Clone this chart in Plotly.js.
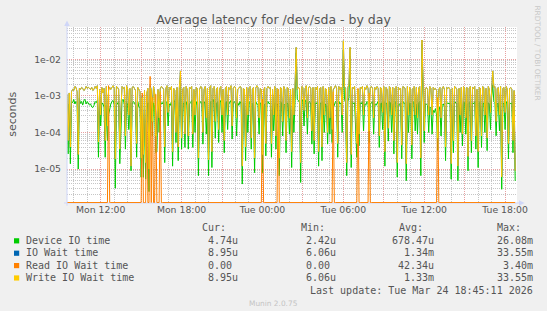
<!DOCTYPE html>
<html><head><meta charset="utf-8">
<script src="https://cdn.plot.ly/plotly-3.0.1.min.js"></script>
<style>html,body{margin:0;padding:0;background:#F0F0F0;}#chart{width:547px;height:311px;}</style>
</head><body><div id="chart"></div><script>
// ---- data (values in microseconds, one sample every 5 minutes) ----
const firstSampleUTC = [2026, 2, 23, 9, 30]; // Mon 2026-03-23 09:30
const stepMinutes = 5;

const deviceIO = [
500,26,600,14,700,650,800,600,700,650,10,850,620,700,560,750,800,600,700,620,
560,600,500,480,550,700,650,750,21,700,150,650,600,500,21,560,60,300,450,600,
700,750,600,3.0,550,650,700,14,200,750,800,600,35,700,550,120,650,9,600,700,
650,550,21,700,500,450,6,300,6,600,5.3,400,650,2.42,550,700,80,650,500,28,
30,700,100,500,650,600,750,15,650,700,150,600,550,700,12,800,650,53,600,17,
700,2500,35,600,650,39,700,550,35,600,650,750,39,600,100,700,550,6.6,600,700,
650,48,700,600,90,550,6.6,650,700,11,800,650,70,600,700,53,650,750,100,600,
28,650,700,120,600,700,750,66,650,700,600,80,650,550,700,600,3.9,650,600,17,
600,100,700,650,35,600,650,8,700,600,550,90,650,600,8,500,600,23,650,700,
600,650,21,600,110,650,35,600,550,6.6,700,650,80,600,550,28,650,600,90,550,
11,600,100,700,15000,800,750,650,4.3,800,700,150,750,700,90,650,700,600,48,650,
26,650,600,700,12,600,650,17,700,100,600,550,48,650,90,700,53,450,600,700,
650,21,700,600,650,100,18000,800,650,6.6,700,900,12000,11,700,600,650,100,21,500,
43,650,600,700,110,600,550,700,650,53,600,650,700,90,600,550,650,700,39,600,
650,120,700,12,650,600,58,700,650,100,600,26,700,650,6,600,550,650,19,700,
650,600,4.8,700,100,650,600,19,700,650,110,600,90,650,700,6.6,26080,800,53,600,
600,550,100,500,450,90,400,350,450,300,32,400,500,80,550,600,500,17,600,650,
600,650,5.3,600,28,700,650,600,4.8,650,100,600,43,700,650,90,600,9,650,700,
28,650,600,700,35,600,11,650,700,39,600,650,100,700,32,650,600,120,900,2000,
700,650,81,600,650,110,700,2.8,600,650,120,700,600,19,650,600,650,28,500,4.74
];

const ioWait = [
1100,60,1200,40,1300,1500,1400,1800,1700,1300,25,1600,1500,1700,1600,1400,1500,1800,1600,1700,
1600,1500,1700,1400,1500,1800,1600,1900,55,1500,300,1700,1200,1600,60,1800,150,1450,1700,1500,
1700,1900,1600,19,1800,1700,1500,35,400,1800,1600,1700,80,1900,1500,300,1600,12,1700,1800,
1600,1400,50,1700,1500,1300,20,1000,25,1400,15,1150,1600,10,1900,1500,500,1800,1200,400,
90,1500,250,1550,1800,1700,1500,40,1600,1900,350,1700,1500,1800,30,1600,1400,100,1700,40,
1600,4800,70,1500,1700,90,1800,1500,80,1700,1600,1800,90,1500,300,1700,1600,20,1500,1800,
1700,100,1500,1800,250,1600,18,1700,1900,30,1600,1800,200,1500,1700,120,1600,1800,300,1500,
60,1600,1800,300,1700,1500,1900,150,1600,1800,1700,250,1500,1600,1800,1700,12,1600,1500,40,
1700,300,1600,1800,70,1500,1700,20,1600,1900,1700,250,1600,1500,300,1400,1700,50,1600,1800,
1600,1700,50,1500,300,1800,80,1600,1450,20,1700,1600,200,1800,1500,60,1700,1600,250,1500,
30,1600,300,1800,21000,1500,1700,1600,15,1800,1700,400,1600,1900,250,1700,1800,1600,110,1700,
60,1700,1500,1800,30,1600,1700,40,1800,300,1600,1500,100,1700,250,1800,120,1450,1700,1900,
1600,50,1800,1500,1700,300,32000,1800,1600,15,1700,2000,21000,25,1700,1600,1800,300,50,1520,
90,1700,1600,1800,300,1700,1500,1900,1600,500,1700,1800,1600,250,1700,1500,1800,1600,80,1700,
1600,350,1800,30,1700,1500,130,1800,1600,300,1700,60,1600,1800,15,1700,1500,1600,45,1800,
1700,1600,14,1800,300,1700,1500,45,1600,1800,300,1700,250,1600,1800,20,33550,1700,110,1600,
1700,1500,300,1800,1600,300,1700,1500,1600,1400,300,1500,1700,250,1600,1800,1500,40,1700,1600,
1700,1500,14,1600,60,1800,1700,1500,12,1600,300,1700,90,1800,1600,250,1700,22,1600,1800,
60,1700,1600,1800,80,1500,30,1700,1600,80,1800,1700,300,1600,70,1800,1500,350,2000,4800,
1700,1800,200,1600,1700,300,1800,6.06,1600,1700,350,1800,1500,50,1600,1700,1500,60,1400,8.95
];

const readIOWait = [
0,0,0,0,0,0,0,0,0,0,0,0,0,0,0,0,0,0,0,0,
0,0,0,0,0,0,0,0,0,0,0,0,0,0,0,0,0,1900,0,0,
0,0,0,0,0,0,0,0,0,0,0,0,0,0,0,0,0,0,0,0,
0,0,0,0,0,0,0,1200,0,0,0,1000,0,0,3400,0,900,0,0,1100,
0,0,0,1300,0,0,0,0,0,0,0,0,0,0,0,0,0,0,0,0,
0,0,0,0,0,0,0,0,0,0,0,0,0,0,0,0,0,0,0,0,
0,0,0,0,0,0,0,0,0,0,0,0,0,0,0,0,0,0,0,0,
0,0,0,0,0,0,0,0,0,0,0,0,0,0,0,0,0,0,0,0,
0,0,0,0,0,0,0,0,0,0,0,0,0,0,800,0,0,0,0,0,
0,0,0,0,0,0,0,0,1500,0,0,0,0,0,0,0,0,0,0,0,
0,0,0,0,0,0,0,0,0,0,0,0,0,0,0,0,0,0,0,0,
0,0,0,0,0,0,0,0,0,0,0,0,0,0,0,0,0,1300,0,0,
0,0,0,0,0,0,0,0,0,0,0,0,0,0,0,0,0,0,0,1600,
0,0,0,0,0,0,0,0,0,1200,0,0,0,0,0,0,0,0,0,0,
0,0,0,0,0,0,0,0,0,0,0,0,0,0,0,0,0,0,0,0,
0,0,0,0,0,0,0,0,0,0,0,0,0,0,0,0,0,0,0,0,
0,0,0,0,0,0,0,0,0,0,900,0,0,0,0,0,0,0,0,0,
0,0,0,0,0,0,0,0,0,0,0,0,0,0,0,0,0,0,0,0,
0,0,0,0,0,0,0,0,0,0,0,0,0,0,0,0,0,0,0,0,
0,0,0,0,0,0,0,0,0,0,0,0,0,0,0,0,0,0,0,0
];

const writeIOWait = [
1100,60,1200,40,1300,1500,1400,1800,1700,1300,25,1600,1500,1700,1600,1400,1500,1800,1600,1700,
1600,1500,1700,1400,1500,1800,1600,1900,55,1500,300,1700,1200,1600,60,1800,150,1400,1700,1500,
1700,1900,1600,19,1800,1700,1500,35,400,1800,1600,1700,80,1900,1500,300,1600,12,1700,1800,
1600,1400,50,1700,1500,1300,20,900,25,1400,15,1200,1600,10,1700,1500,200,1800,1200,80,
90,1500,250,1600,1800,1700,1500,40,1600,1900,350,1700,1500,1800,30,1600,1400,100,1700,40,
1600,4800,70,1500,1700,90,1800,1500,80,1700,1600,1800,90,1500,300,1700,1600,20,1500,1800,
1700,100,1500,1800,250,1600,18,1700,1900,30,1600,1800,200,1500,1700,120,1600,1800,300,1500,
60,1600,1800,300,1700,1500,1900,150,1600,1800,1700,250,1500,1600,1800,1700,12,1600,1500,40,
1700,300,1600,1800,70,1500,1700,20,1600,1900,1700,250,1600,1500,25,1400,1700,50,1600,1800,
1600,1700,50,1500,300,1800,80,1600,1400,20,1700,1600,200,1800,1500,60,1700,1600,250,1500,
30,1600,300,1800,21000,1500,1700,1600,15,1800,1700,400,1600,1900,250,1700,1800,1600,110,1700,
60,1700,1500,1800,30,1600,1700,40,1800,300,1600,1500,100,1700,250,1800,120,1500,1700,1900,
1600,50,1800,1500,1700,300,32000,1800,1600,15,1700,2000,21000,25,1700,1600,1800,300,50,1500,
90,1700,1600,1800,300,1700,1500,1900,1600,110,1700,1800,1600,250,1700,1500,1800,1600,80,1700,
1600,350,1800,30,1700,1500,130,1800,1600,300,1700,60,1600,1800,15,1700,1500,1600,45,1800,
1700,1600,14,1800,300,1700,1500,45,1600,1800,300,1700,250,1600,1800,20,33550,1700,110,1600,
1700,1500,300,1800,1600,300,1700,1500,1600,1400,70,1500,1700,250,1600,1800,1500,40,1700,1600,
1700,1500,14,1600,60,1800,1700,1500,12,1600,300,1700,90,1800,1600,250,1700,22,1600,1800,
60,1700,1600,1800,80,1500,30,1700,1600,80,1800,1700,300,1600,70,1800,1500,350,2000,4800,
1700,1800,200,1600,1700,300,1800,6.06,1600,1700,350,1800,1500,50,1600,1700,1500,60,1400,8.95
];

const seriesNames  = ['Device IO time', 'IO Wait time', 'Read IO Wait time', 'Write IO Wait time'];
const seriesColors = ['#00CC00', '#0066B3', '#FF8000', '#FFCC00'];
const curVals = ['4.74u', '8.95u', '0.00', '8.95u'];
const minVals = ['2.42u', '6.06u', '0.00', '6.06u'];
const avgVals = ['678.47u', '1.34m', '42.34u', '1.33m'];
const maxVals = ['26.08m', '33.55m', '3.40m', '33.55m'];
const statHeaders = ['Cur:', 'Min:', 'Avg:', 'Max:'];
const xTickVals = ['2026-03-23 12:00','2026-03-23 15:00','2026-03-23 18:00','2026-03-23 21:00',
  '2026-03-24 00:00','2026-03-24 03:00','2026-03-24 06:00','2026-03-24 09:00',
  '2026-03-24 12:00','2026-03-24 15:00','2026-03-24 18:00'];
const xTickText = ['Mon 12:00','','Mon 18:00','','Tue 00:00','','Tue 06:00','','Tue 12:00','','Tue 18:00'];
const yTickVals = [1e-5, 1e-4, 1e-3, 1e-2];
const yTickText = ['1e-05', '1e-04', '1e-03', '1e-02'];
const lastUpdate = 'Last update: Tue Mar 24 18:45:11 2026';

// ---- drawing ----
const t0 = Date.UTC.apply(null, firstSampleUTC);
const xs = deviceIO.map((_, i) => t0 + i * stepMinutes * 60000);
const yLogRange = [-5.927, -1.119];
const zeroFloor = Math.pow(10, yLogRange[0] + 0.012);
const toSec = arr => arr.map(v => v === 0 ? zeroFloor : v * 1e-6);
const seriesData = [deviceIO, ioWait, readIOWait, writeIOWait];

const traces = seriesData.map((arr, k) => ({
  type: 'scatter', mode: 'lines', x: xs, y: toSec(arr), name: seriesNames[k],
  line: {color: seriesColors[k], width: 1}, hoverinfo: 'skip', showlegend: false
}));

const L = 67, R = 517, T = 27, B = 203.3;
const px = p => (p - L) / (R - L);
const py = p => (B - p) / (B - T);
const FONT = 'DejaVu Sans', MONO = 'DejaVu Sans Mono';
const txtCol = '#555';
const annotations = [];
function ann(text, x, y, xanchor, font, extra) {
  annotations.push(Object.assign({text, x: px(x), y: py(y), xref: 'paper', yref: 'paper',
    xanchor, yanchor: 'middle', showarrow: false, borderpad: 0, borderwidth: 0, font}, extra || {}));
}
const legFont = {family: MONO, size: 10, color: txtCol};
const headerX = [202.4, 300.8, 398.8, 497.2];
const colRight = [238.3, 336, 434.4, 533.2];
statHeaders.forEach((h, j) => ann(h, headerX[j], 227.6, 'left', legFont));
const rowY = [240.8, 253.2, 265.6, 278.0];
const shapes = [];
const cols = [curVals, minVals, avgVals, maxVals];
seriesNames.forEach((n, k) => {
  ann(n, 25.6, rowY[k], 'left', legFont);
  cols.forEach((c, j) => {
    const v = /[a-zµ]$/i.test(c[k]) ? c[k] : c[k] + '\u00A0';
    ann(v, colRight[j], rowY[k], 'right', legFont);
  });
  shapes.push({type: 'rect', xref: 'paper', yref: 'paper', x0: px(14), x1: px(19.2),
    y0: py(rowY[k] + 3), y1: py(rowY[k] - 2.2), fillcolor: seriesColors[k], line: {width: 0}});
});
ann(lastUpdate, 533.2, 290.6, 'right', legFont);
ann('Munin 2.0.75', 273.5, 303.6, 'center', {family: FONT, size: 7.4, color: '#c4c4c4'});
ann('RRDTOOL / TOBI OETIKER', 537.5, 53, 'center', {family: FONT, size: 7.4, color: '#c8c8c8'}, {textangle: 90});
ann('seconds', 11.7, 114.2, 'center', {family: FONT, size: 11, color: txtCol}, {textangle: -90});

const axisCol = '#CFD6F8';
shapes.push({type: 'line', xref: 'paper', yref: 'paper', x0: px(67), x1: px(67), y0: py(206), y1: py(24), line: {color: axisCol, width: 1}});
shapes.push({type: 'line', xref: 'paper', yref: 'paper', x0: px(64), x1: px(520), y0: py(203.3), y1: py(203.3), line: {color: axisCol, width: 1}, layer: 'below'});
shapes.push({type: 'path', xref: 'paper', yref: 'paper',
  path: `M ${px(64.2)} ${py(26)} L ${px(69.8)} ${py(26)} L ${px(67)} ${py(20.5)} Z`, fillcolor: axisCol, line: {width: 0}});
shapes.push({type: 'path', xref: 'paper', yref: 'paper',
  path: `M ${px(519)} ${py(200.5)} L ${px(519)} ${py(206.1)} L ${px(524.5)} ${py(203.3)} Z`, fillcolor: axisCol, line: {width: 0}});

const minorGrid = '#c6c6c6', majorGrid = '#e8a0a0', dots = '1px,1px';
const layout = {
  width: 547, height: 311,
  paper_bgcolor: '#F0F0F0', plot_bgcolor: '#FFFFFF',
  margin: {l: L, r: 547 - R, t: T, b: 311 - B, pad: 0},
  title: {text: 'Average latency for /dev/sda - by day', font: {family: FONT, size: 12.5, color: txtCol},
    xref: 'container', x: 0.5, xanchor: 'center', yref: 'container', y: 1 - 19.5 / 311, yanchor: 'middle'},
  xaxis: {type: 'date', range: ['2026-03-23 09:30', '2026-03-24 18:53'],
    tickmode: 'array', tickvals: xTickVals, ticktext: xTickText,
    showgrid: true, gridcolor: majorGrid, griddash: dots, gridwidth: 1,
    minor: {dtick: 3600000, tick0: '2026-03-23 00:00', showgrid: true, gridcolor: minorGrid, griddash: dots, gridwidth: 1, ticks: ''},
    ticks: '', showline: false, zeroline: false, fixedrange: true,
    tickfont: {family: FONT, size: 9.3, color: txtCol}},
  yaxis: {type: 'log', range: yLogRange, tickmode: 'array', tickvals: yTickVals, ticktext: yTickText,
    showgrid: true, gridcolor: majorGrid, griddash: dots, gridwidth: 1,
    minor: {dtick: 'D1', showgrid: true, gridcolor: minorGrid, griddash: dots, gridwidth: 1, ticks: ''},
    ticks: '', showline: false, zeroline: false, fixedrange: true, ticklabelstandoff: 5,
    tickfont: {family: FONT, size: 9.3, color: txtCol}},
  showlegend: false,
  annotations, shapes
};
Plotly.newPlot('chart', traces, layout, {staticPlot: true, displayModeBar: false});
</script></body></html>
